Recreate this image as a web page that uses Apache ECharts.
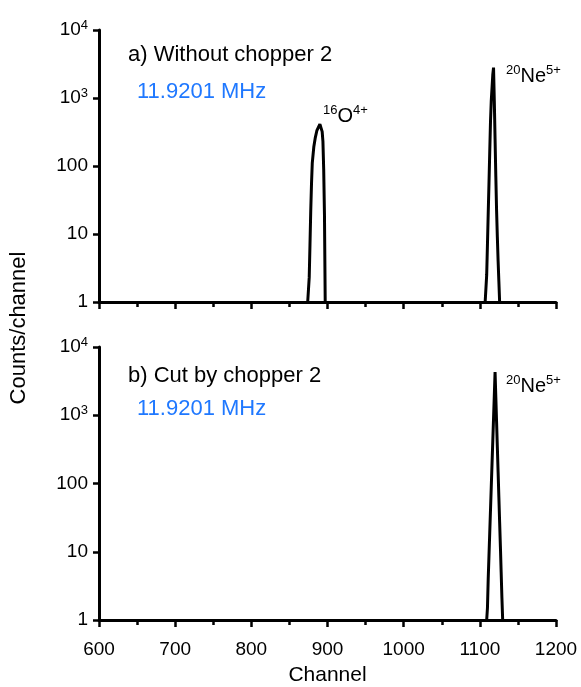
<!DOCTYPE html>
<html>
<head>
<meta charset="utf-8">
<script src="https://cdn.jsdelivr.net/npm/echarts@6/dist/echarts.min.js"></script>
<style>
html,body{margin:0;padding:0;background:#fff;}
#c{width:581px;height:687px;}
</style>
</head>
<body>
<div id="c"></div>
<script>
// ---- data ----
var xTicks = [600, 700, 800, 900, 1000, 1100, 1200];
var yTicks = [1, 10, 100, 1000, 10000];

// panel a) Without chopper 2
var oChannels = [874, 875, 876, 877, 878, 879, 880, 882, 884, 886, 888, 889, 890, 891, 892, 893, 894, 895, 896, 897];
var oCounts   = [1, 1, 2.3, 7, 22, 55, 110, 190, 262, 330, 370, 395, 412, 430, 390, 320, 230, 90, 20, 1];

var neAChannels = [1107, 1108, 1109, 1110, 1111, 1112, 1113, 1114, 1115, 1116, 1117, 1118, 1119, 1120, 1121, 1122, 1123, 1124, 1125, 1126];
var neACounts   = [1, 1, 2.5, 7, 20, 55, 160, 450, 910, 1400, 2200, 2800, 910, 250, 70, 22, 9, 4, 2, 1];

// panel b) Cut by chopper 2
var neBChannels = [1109, 1110, 1111, 1112, 1113, 1114, 1115, 1116, 1117, 1118, 1119, 1120, 1121, 1122, 1123, 1124, 1125, 1126, 1127, 1128, 1129, 1130];
var neBCounts   = [1, 1.5, 4, 8.7, 19, 41, 89, 192, 417, 900, 1950, 4280, 1830, 790, 340, 146, 63, 27, 12, 5, 2.1, 1];

var labelA = 'a) Without chopper 2';
var labelB = 'b) Cut by chopper 2';
var freqText = '11.9201 MHz';
var yName = 'Counts/channel';
var xName = 'Channel';

function pairs(xs, ys) { return xs.map(function (x, i) { return [x, ys[i]]; }); }

var FONT = '"Liberation Sans", Arial, sans-serif';
var BLUE = '#1f78ff';

function yLabelFmt(v) {
  if (v >= 1000) return '10{sup|' + Math.round(Math.log10(v)) + '}';
  return String(v);
}

function makeX(idx, showLabels) {
  return {
    type: 'value', gridIndex: idx, min: xTicks[0], max: xTicks[xTicks.length - 1], interval: 100,
    axisLine: { show: true, onZero: false, lineStyle: { color: '#000', width: 3 } },
    axisTick: { show: true, inside: false, length: 7, lineStyle: { color: '#000', width: 2.5 } },
    minorTick: { show: true, splitNumber: 2, length: 5, lineStyle: { color: '#000', width: 2.5 } },
    splitLine: { show: false },
    axisLabel: { show: showLabels, fontSize: 19, color: '#000', fontFamily: FONT, margin: 20,
      formatter: function (v) { return String(v); } },
    name: showLabels ? xName : '', nameLocation: 'middle', nameGap: 45,
    nameTextStyle: { fontSize: 21, color: '#000', fontFamily: FONT }
  };
}

function makeY(idx) {
  return {
    type: 'log', logBase: 10, gridIndex: idx, min: yTicks[0], max: yTicks[yTicks.length - 1],
    axisLine: { show: true, onZero: false, lineStyle: { color: '#000', width: 3 } },
    axisTick: { show: true, inside: false, length: 6, lineStyle: { color: '#000', width: 2.5 } },
    minorTick: { show: false },
    splitLine: { show: false },
    axisLabel: {
      fontSize: 19, color: '#000', fontFamily: FONT, margin: 11,
      formatter: yLabelFmt,
      rich: { sup: { fontSize: 13, verticalAlign: 'top', fontFamily: FONT, color: '#000', padding: [0, 0, 10, 0] } }
    }
  };
}

function lineSeries(idx, data) {
  return {
    type: 'line', xAxisIndex: idx, yAxisIndex: idx, data: data, showSymbol: false, symbol: 'none',
    lineStyle: { color: '#000', width: 3 }, silent: true, animation: false
  };
}

function ionLabel(x, y, mass, sym, charge) {
  return { type: 'text', x: x, y: y, silent: true,
    style: {
      text: '{s|' + mass + '}{m|' + sym + '}{s|' + charge + '}',
      verticalAlign: 'middle', align: 'left',
      rich: {
        m: { fontSize: 20, fontFamily: FONT, fill: '#000', color: '#000', lineHeight: 24 },
        s: { fontSize: 13, fontFamily: FONT, fill: '#000', color: '#000', verticalAlign: 'top', lineHeight: 14 }
      }
    } };
}

var chart = echarts.init(document.getElementById('c'), null, { renderer: 'canvas' });
chart.setOption({
  animation: false,
  backgroundColor: '#fff',
  grid: [
    { left: 99, right: 25, top: 30, height: 272 },
    { left: 99, right: 25, top: 347, height: 275 }
  ],
  xAxis: [makeX(0, false), makeX(1, true)],
  yAxis: [makeY(0), makeY(1)],
  series: [
    lineSeries(0, pairs(oChannels, oCounts)),
    lineSeries(0, pairs(neAChannels, neACounts)),
    lineSeries(1, pairs(neBChannels, neBCounts))
  ],
  graphic: [
    { type: 'text', x: 19, y: 328, rotation: Math.PI / 2, silent: true,
      style: { text: yName, font: '22px ' + FONT, fill: '#000', align: 'center', verticalAlign: 'middle' } },
    { type: 'text', x: 128, y: 55, silent: true,
      style: { text: labelA, font: '22px ' + FONT, fill: '#000', verticalAlign: 'middle' } },
    { type: 'text', x: 137, y: 92, silent: true,
      style: { text: freqText, font: '22px ' + FONT, fill: BLUE, verticalAlign: 'middle' } },
    { type: 'text', x: 128, y: 376, silent: true,
      style: { text: labelB, font: '22px ' + FONT, fill: '#000', verticalAlign: 'middle' } },
    { type: 'text', x: 137, y: 409, silent: true,
      style: { text: freqText, font: '22px ' + FONT, fill: BLUE, verticalAlign: 'middle' } },
    ionLabel(323, 116, '16', 'O', '4+'),
    ionLabel(506, 76, '20', 'Ne', '5+'),
    ionLabel(506, 386, '20', 'Ne', '5+')
  ]
});
</script>
</body>
</html>
